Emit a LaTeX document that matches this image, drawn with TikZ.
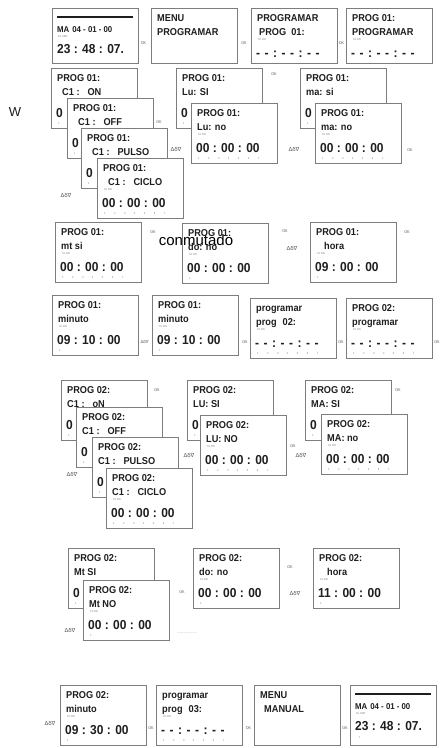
\documentclass[tikz,border=0pt]{standalone}
\usepackage{fontspec}
\setmainfont{Liberation Sans}
\newfontfamily\lcdfont{Liberation Sans}[FakeStretch=0.92]
\newfontfamily\keyfont{DejaVu Sans}
\usetikzlibrary{positioning}
\definecolor{lcdgray}{RGB}{125,125,125}
\definecolor{lcdink}{RGB}{30,30,30}
\definecolor{okgray}{RGB}{90,90,90}

\tikzset{
  lcd/.style={draw=lcdgray, line width=1.2pt, fill=white, minimum width=86pt, minimum height=60pt, anchor=north west, inner sep=0pt},
  lcdtext/.style={anchor=base west, inner sep=0pt, text=lcdink, font=\lcdfont\bfseries\fontsize{10}{10}\selectfont},
  lcdbig/.style={lcdtext, font=\lcdfont\bfseries\fontsize{13}{13}\selectfont},
  lcddate/.style={lcdtext, font=\lcdfont\bfseries\fontsize{8.5}{8.5}\selectfont},
  lcdtiny/.style={lcdtext, text=lcdgray, font=\lcdfont\fontsize{2.8}{2.8}\selectfont},
  oklabel/.style={inner sep=0pt, text=okgray, font=\lcdfont\fontsize{4}{4}\selectfont},
  keylabel/.style={inner sep=0pt, text=okgray, font=\keyfont\fontsize{5.5}{5.5}\selectfont},
}

\newcommand{\weekrow}{1\hspace{8.5pt}2\hspace{8.5pt}3\hspace{8.5pt}4\hspace{8.5pt}5\hspace{8.5pt}6\hspace{8.5pt}7}
\newcommand{\dashrow}{-\hspace{4.5pt}-\hspace{4.5pt}:\hspace{4.5pt}-\hspace{4.5pt}-\hspace{4.5pt}:\hspace{4.5pt}-\hspace{4.5pt}-}

% screen with two text lines, a time line and a day row
\newcommand{\lcdscreen}[6]{%
  \node[lcd] (#1) at (#2) {};
  \node[lcdtext] (#1-top) at ([shift={(6,13.5)}]#1.north west) {#3};
  \node[lcdtext] (#1-mid) at ([shift={(6,27.5)}]#1.north west) {#4};
  \node[lcdtiny] (#1-tag) at ([shift={(7,32.5)}]#1.north west) {01 ON};
  \node[lcdbig] (#1-time) at ([shift={(5,49.5)}]#1.north west) {#5};
  \node[lcdtiny] (#1-days) at ([shift={(7,56)}]#1.north west) {#6};
}
% screen lying under the next one: only its left part shows
\newcommand{\lcdunder}[4]{%
  \node[lcd] (#1) at (#2) {};
  \node[lcdtext] (#1-top) at ([shift={(6,13.5)}]#1.north west) {#3};
  \node[lcdtext] (#1-mid) at ([shift={(6,27.5)}]#1.north west) {#4};
  \node[lcdbig] (#1-time) at ([shift={(5,49.5)}]#1.north west) {0};
  \node[lcdtiny] (#1-days) at ([shift={(7,56)}]#1.north west) {1};
}
% menu screen
\newcommand{\lcdmenu}[4]{%
  \node[lcd] (#1) at (#2) {};
  \node[lcdtext] (#1-top) at ([shift={(6,13.5)}]#1.north west) {#3};
  \node[lcdtext] (#1-mid) at ([shift={(6,27.5)}]#1.north west) {#4};
}
% clock screen
\newcommand{\lcdclock}[3]{%
  \node[lcd] (#1) at (#2) {};
  \draw[lcdink, line width=2.2pt] ([shift={(5,9)}]#1.north west) -- ([shift={(81,9)}]#1.north west);
  \node[lcddate] (#1-date) at ([shift={(5,24)}]#1.north west) {MA\hspace{3pt}04 - 01 - 00};
  \node[lcdtiny] (#1-tag) at ([shift={(6,29)}]#1.north west) {DL SMT};
  \node[lcdbig] (#1-time) at ([shift={(5,45.5)}]#1.north west) {23 : 48 : 07.};
  \node[lcdtiny] (#1-days) at ([shift={(9,53)}]#1.north west) {#3};
}

\begin{document}
\begin{tikzpicture}[x=1pt, y=-1pt]
  \fill[white] (0,0) rectangle (440,748);
  \useasboundingbox (0,0) rectangle (440,748);
  % Row 1: clock, menu, program 01
  \begin{scope}[lcd/.append style={minimum height=55pt}]
    \lcdclock{clock1}{52,8}{}
    \node[oklabel] (ok1) at (143.5,43) {OK};
    \lcdmenu{menu1}{151,8}{MENU}{PROGRAMAR}
    \node[oklabel] (ok2) at (244,43) {OK};
    \lcdscreen{prog1}{251,8}{PROGRAMAR}{\hspace{2pt}PROG\hspace{5pt}01:}{\dashrow}{}
    \node[oklabel] (ok3) at (341.5,43) {OK};
    \lcdscreen{prog1set}{346,8}{PROG 01:}{PROGRAMAR}{\dashrow}{}
  \end{scope}
  % Row 2: channel mode, Lu, ma
  \node[font=\fontsize{13}{13}\selectfont, text=lcdink] (w) at (15,112) {W};
  \lcdunder{modeon1}{51,68}{PROG 01:}{\hspace{5pt}C1 :\hspace{8pt}ON}
  \lcdunder{modeoff1}{67,98}{PROG 01:}{\hspace{5pt}C1 :\hspace{8pt}OFF}
  \lcdunder{modepulse1}{81,128}{PROG 01:}{\hspace{5pt}C1 :\hspace{8pt}PULSO}
  \lcdscreen{modecycle1}{97,158}{PROG 01:}{\hspace{5pt}C1 :\hspace{8pt}CICLO}{00 : 00 : 00}{\weekrow}
  \node[oklabel] (ok4) at (159,122) {OK};
  \node[keylabel] (key1) at (66,195) {Δδ∇};
  \lcdunder{luyes1}{176,68}{PROG 01:}{Lu: SI}
  \lcdscreen{luno1}{191,103}{PROG 01:}{Lu: no}{00 : 00 : 00}{\weekrow}
  \node[keylabel] (key2) at (176,149) {Δδ∇};
  \node[oklabel] (ok5) at (274,74) {OK};
  \node[keylabel] (key3) at (294,149) {Δδ∇};
  \lcdunder{mayes1}{300,68}{PROG 01:}{ma: si}
  \lcdscreen{mano1}{315,103}{PROG 01:}{ma: no}{00 : 00 : 00}{\weekrow}
  \node[oklabel] (ok6) at (410,150) {OK};
  % Row 3: mt, do, hora
  \lcdscreen{mtyes1}{55,222}{PROG 01:}{mt si}{00 : 00 : 00}{\weekrow}
  \node[oklabel] (ok7) at (153,232) {OK};
  \lcdscreen{dono1}{182,223}{PROG 01:}{do: no}{00 : 00 : 00}{1}
  \node[font=\fontsize{15}{15}\selectfont, text=black] (switched) at (196,240) {conmutado};
  \node[oklabel] (ok8) at (285,231) {OK};
  \node[keylabel] (key4) at (292,248) {Δδ∇};
  \lcdscreen{hour1}{310,222}{PROG 01:}{\hspace{8pt}hora}{09 : 00 : 00}{1}
  \node[oklabel] (ok9) at (407,232) {OK};
  % Row 4: minuto, program 02
  \lcdscreen{min1}{52,295}{PROG 01:}{minuto}{09 : 10 : 00}{1}
  \node[keylabel, font=\keyfont\fontsize{4}{4}\selectfont] (key5) at (144.5,342) {Δδ∇};
  \lcdscreen{min1set}{152,295}{PROG 01:}{minuto}{09 : 10 : 00}{1}
  \node[oklabel] (ok10) at (245,342) {OK};
  \lcdscreen{prog2}{250,298}{programar}{prog\hspace{6pt}02:}{\dashrow}{\weekrow}
  \node[oklabel] (ok11) at (341,342) {OK};
  \lcdscreen{prog2set}{346,298}{PROG 02:}{programar}{\dashrow}{\weekrow}
  \node[oklabel] (ok12) at (437,342) {OK};
  % Row 5: channel mode, LU, MA
  \lcdunder{modeon2}{61,380}{PROG 02:}{C1 :\hspace{8pt}oN}
  \lcdunder{modeoff2}{76,407}{PROG 02:}{C1 :\hspace{8pt}OFF}
  \lcdunder{modepulse2}{92,437}{PROG 02:}{C1 :\hspace{8pt}PULSO}
  \lcdscreen{modecycle2}{106,468}{PROG 02:}{C1 :\hspace{8pt}CICLO}{00 : 00 : 00}{\weekrow}
  \node[oklabel] (ok13) at (157,390) {OK};
  \node[keylabel] (key6) at (72,474) {Δδ∇};
  \lcdunder{luyes2}{187,380}{PROG 02:}{LU: SI}
  \lcdscreen{luno2}{200,415}{PROG 02:}{LU: NO}{00 : 00 : 00}{\weekrow}
  \node[keylabel] (key7) at (189,455) {Δδ∇};
  \node[oklabel] (ok14) at (293,446) {OK};
  \node[keylabel] (key8) at (301,455) {Δδ∇};
  \lcdunder{mayes2}{305,380}{PROG 02:}{MA: SI}
  \lcdscreen{mano2}{321,414}{PROG 02:}{MA: no}{00 : 00 : 00}{\weekrow}
  \node[oklabel] (ok15) at (398,390) {OK};
  % Row 6: Mt, do, hora
  \lcdunder{mtyes2}{68,548}{PROG 02:}{Mt SI}
  \lcdscreen{mtno2}{83,580}{PROG 02:}{Mt NO}{00 : 00 : 00}{1}
  \node[keylabel] (key9) at (70,630) {Δδ∇};
  \node[oklabel] (ok16) at (182,592) {OK};
  \node[oklabel, font=\lcdfont\fontsize{3}{3}\selectfont] (dots) at (187,633) {..........................};
  \lcdscreen{dono2}{193,548}{PROG 02:}{do: no}{00 : 00 : 00}{1}
  \node[oklabel] (ok17) at (290,567) {OK};
  \node[keylabel] (key10) at (295,593) {Δδ∇};
  \lcdscreen{hour2}{313,548}{PROG 02:}{\hspace{8pt}hora}{11 : 00 : 00}{1}
  % Row 7: minuto, program 03, manual menu, clock
  \node[keylabel] (key11) at (50,723) {Δδ∇};
  \lcdscreen{min2}{60,685}{PROG 02:}{minuto}{09 : 30 : 00}{1}
  \node[oklabel] (ok18) at (151,728) {OK};
  \lcdscreen{prog3}{156,685}{programar}{prog\hspace{6pt}03:}{\dashrow}{\weekrow}
  \node[oklabel] (ok19) at (248.5,728) {OK};
  \lcdmenu{menu2}{254,685}{MENU}{\hspace{4pt}MANUAL}
  \node[oklabel] (ok20) at (345,728) {OK};
  \lcdclock{clock2}{350,685}{1}
\end{tikzpicture}
\end{document}
